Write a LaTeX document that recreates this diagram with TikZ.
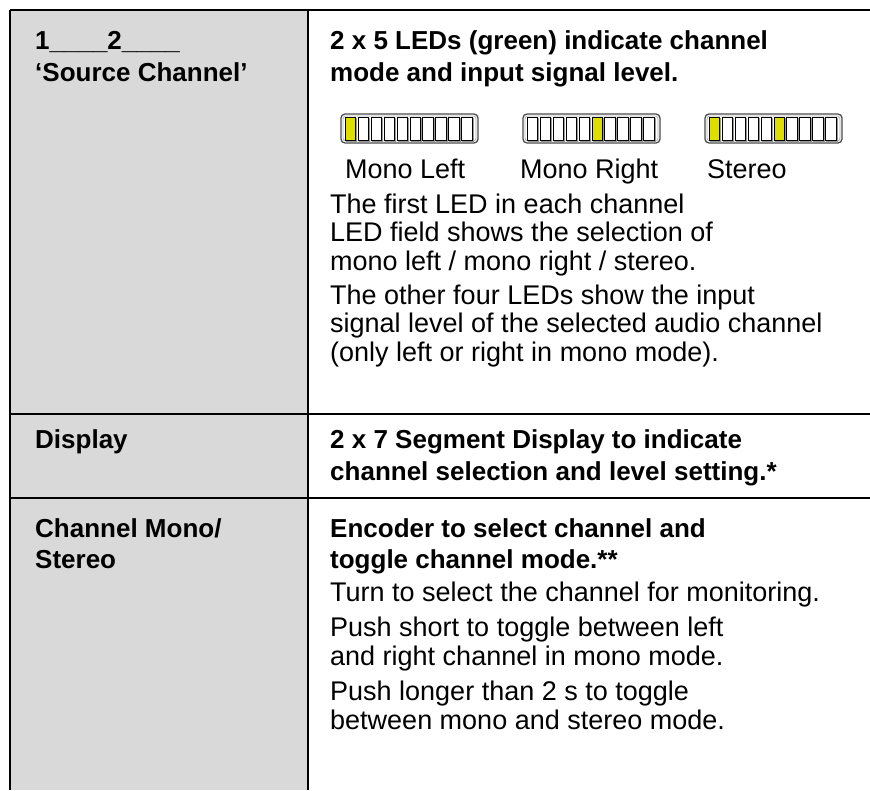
\documentclass[tikz,border=0pt]{standalone}
\usepackage{fontspec}
\setmainfont{Liberation Sans}
\usetikzlibrary{positioning}
\definecolor{cellgray}{RGB}{217,217,217}
\definecolor{ledyellow}{RGB}{222,222,0}

\begin{document}
\begin{tikzpicture}[x=1pt, y=-1pt,
    % text styles
    head/.style={anchor=base west, inner sep=0pt, font=\fontsize{26}{31}\selectfont\bfseries},
    body/.style={anchor=base west, inner sep=0pt, font=\fontsize{27}{31}\selectfont},
    % table lines
    rule/.style={line width=2.4pt, black},
    % LED field styles
    ledframe/.style={draw=black!70, line width=1.3pt, rounded corners=4pt},
    ledinner/.style={draw=black!30, line width=0.8pt, rounded corners=3pt},
    ledcell/.style={draw=black, line width=0.9pt, fill=white},
    ledshade/.style={draw=black!40, line width=0.9pt},
    ledon/.style={draw=black, line width=0.9pt, fill=ledyellow}
]
    \useasboundingbox (0,0) rectangle (870,790);

    % Table background and rules
    \fill[cellgray] (10,10) rectangle (308,790);
    \draw[rule] (10,10) -- (870,10);
    \draw[rule, line width=2pt] (10,10) -- (10,790);
    \draw[rule] (308,10) -- (308,790);
    \draw[rule, line width=2pt] (10,414) -- (870,414);
    \draw[rule, line width=2pt] (10,498) -- (870,498);

    % Row 1 - source channel
    \node[head] (src1) at (35,49) {1\_\_\_\_2\_\_\_\_};
    \node[head] (src2) at (35,81) {`Source Channel'};
    \node[head] (led1) at (330,49) {2 x 5 LEDs (green) indicate channel};
    \node[head] (led2) at (330,81) {mode and input signal level.};

    % LED fields
    \foreach \bx/\lit in {341/1, 523/6, 705/{1,6}} {
        \draw[ledframe] (\bx,114) rectangle +(137,29);
        \draw[ledinner] (\bx+2,116) rectangle +(133,25);
        \foreach \c in {1,...,10}
            \draw[ledshade] ({\bx+5.5+(\c-1)*12.9},118.5) rectangle +(10.4,23);
        \foreach \c in {1,...,10}
            \draw[ledcell] ({\bx+4.5+(\c-1)*12.9},117) rectangle +(10.4,23);
        \foreach \c in \lit
            \draw[ledon] ({\bx+4.5+(\c-1)*12.9},117) rectangle +(10.4,23);
    }
    \node[body] (monol) at (345,178) {Mono Left};
    \node[body] (monor) at (520,178) {Mono Right};
    \node[body] (stereo) at (707,178) {Stereo};

    \node[body] (fst1) at (330,213) {The first LED in each channel};
    \node[body] (fst2) at (330,241) {LED field shows the selection of};
    \node[body] (fst3) at (330,270) {mono left / mono right / stereo.};
    \node[body] (oth1) at (330,304) {The other four LEDs show the input};
    \node[body] (oth2) at (330,332) {signal level of the selected audio channel};
    \node[body] (oth3) at (330,361) {(only left or right in mono mode).};

    % Row 2 - display
    \node[head] (disp) at (35,448) {Display};
    \node[head] (seg1) at (330,448) {2 x 7 Segment Display to indicate};
    \node[head] (seg2) at (330,480) {channel selection and level setting.*};

    % Row 3 - channel mono/stereo
    \node[head] (chm1) at (35,537) {Channel Mono/};
    \node[head] (chm2) at (35,568) {Stereo};
    \node[head] (enc1) at (330,537) {Encoder to select channel and};
    \node[head] (enc2) at (330,568) {toggle channel mode.**};
    \node[body] (turn) at (330,601) {Turn to select the channel for monitoring.};
    \node[body] (psh1) at (330,636) {Push short to toggle between left};
    \node[body] (psh2) at (330,665) {and right channel in mono mode.};
    \node[body] (lng1) at (330,700) {Push longer than 2 s to toggle};
    \node[body] (lng2) at (330,729) {between mono and stereo mode.};
\end{tikzpicture}
\end{document}
